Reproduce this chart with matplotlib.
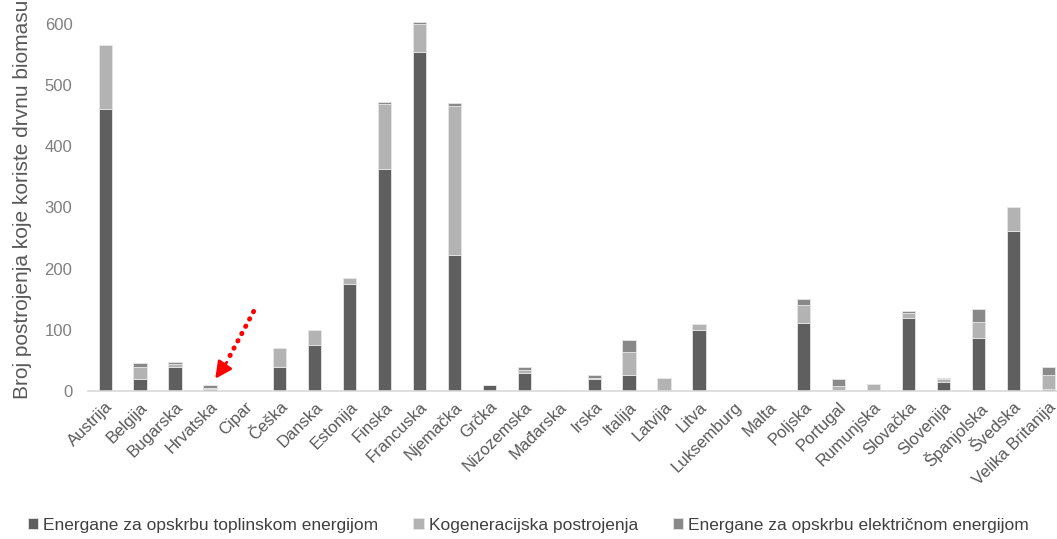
import numpy as np
import matplotlib
matplotlib.use('Agg')
import matplotlib.pyplot as plt

# ===== Data =====

COUNTRIES = ['Austrija', 'Belgija', 'Bugarska', 'Hrvatska', 'Cipar', 'Češka', 'Danska',
             'Estonija', 'Finska', 'Francuska', 'Njemačka', 'Grčka', 'Nizozemska',
             'Mađarska', 'Irska', 'Italija', 'Latvija', 'Litva', 'Luksemburg', 'Malta',
             'Poljska', 'Portugal', 'Rumunjska', 'Slovačka', 'Slovenija', 'Španjolska',
             'Švedska', 'Velika Britanija']

HEAT = [460, 20, 40, 3, 0, 39, 75, 175, 362, 554, 222, 10, 29, 0, 20, 26, 0, 100, 0, 0,
        111, 2, 0, 120, 15, 87, 262, 4]
CHP = [105, 20, 4, 2, 0, 32, 24, 10, 107, 46, 244, 0, 6, 2, 2, 37, 22, 10, 0, 0,
       30, 6, 11, 7, 5, 25, 39, 22]
POWER = [0, 5, 4, 5, 0, 0, 0, 0, 4, 3, 4, 0, 5, 0, 4, 21, 0, 0, 0, 0,
         9, 11, 0, 4, 1, 22, 0, 14]

SERIES = ['Energane za opskrbu toplinskom energijom', 'Kogeneracijska postrojenja',
          'Energane za opskrbu električnom energijom']
COLORS = ['#5f5f5f', '#b3b3b3', '#898989']

Y_TICKS = [0, 100, 200, 300, 400, 500, 600]
Y_LABEL = 'Broj postrojenja koje koriste drvnu biomasu'

# ===== Plot =====

plt.rcParams['font.family'] = ['Liberation Sans Narrow', 'Liberation Sans', 'DejaVu Sans']

fig = plt.figure(figsize=(10.57, 5.39), dpi=100)
ax = fig.add_axes([0.083, 0.2746, 0.917, 0.704])

x = np.arange(len(COUNTRIES))
bottom = np.zeros(len(COUNTRIES))
for vals, name, col in zip([HEAT, CHP, POWER], SERIES, COLORS):
    vals = np.array(vals, dtype=float)
    ax.bar(x, vals, width=0.38, bottom=bottom, color=col, edgecolor='#e6e6e6',
           linewidth=0.6, label=name)
    bottom += vals

ax.set_xlim(-0.5, len(COUNTRIES) - 0.75)
ax.set_ylim(0, 620)
ax.set_yticks(Y_TICKS)
ax.tick_params(axis='y', length=0, labelsize=12, labelcolor='#7f7f7f', pad=11)
ax.set_xticks(x)
ax.set_xticklabels(COUNTRIES, rotation=45, ha='right', rotation_mode='anchor',
                   fontsize=12, color='#595959')
ax.tick_params(axis='x', length=0, pad=6)

for s in ['top', 'right', 'left']:
    ax.spines[s].set_visible(False)
ax.spines['bottom'].set_color('#d9d9d9')
ax.spines['bottom'].set_linewidth(1.2)

fig.text(0.012, 0.26, Y_LABEL, rotation=90, ha='left', va='bottom',
         fontsize=15, color='#595959')

# red dotted arrow pointing at Hrvatska
ax.annotate('', xy=(3.5, 50), xytext=(4.25, 130),
            arrowprops=dict(arrowstyle='-', color='#ff0000', linestyle=(0, (0.1, 1.6)),
                            linewidth=3.5, capstyle='round', shrinkA=0, shrinkB=0))
ax.annotate('', xy=(3.15, 20), xytext=(3.48, 47),
            arrowprops=dict(arrowstyle='-|>,head_length=1.0,head_width=0.5',
                            color='#ff0000', linewidth=2, shrinkA=0, shrinkB=0))

handles, labels = ax.get_legend_handles_labels()
fig.legend(handles, labels, loc='lower center', bbox_to_anchor=(0.5, -0.018), ncol=3,
           frameon=False, fontsize=12.5, handlelength=0.6, handleheight=0.6,
           handletextpad=0.3, columnspacing=2.0, labelcolor='#404040')

fig.savefig('out.png', dpi=100)
